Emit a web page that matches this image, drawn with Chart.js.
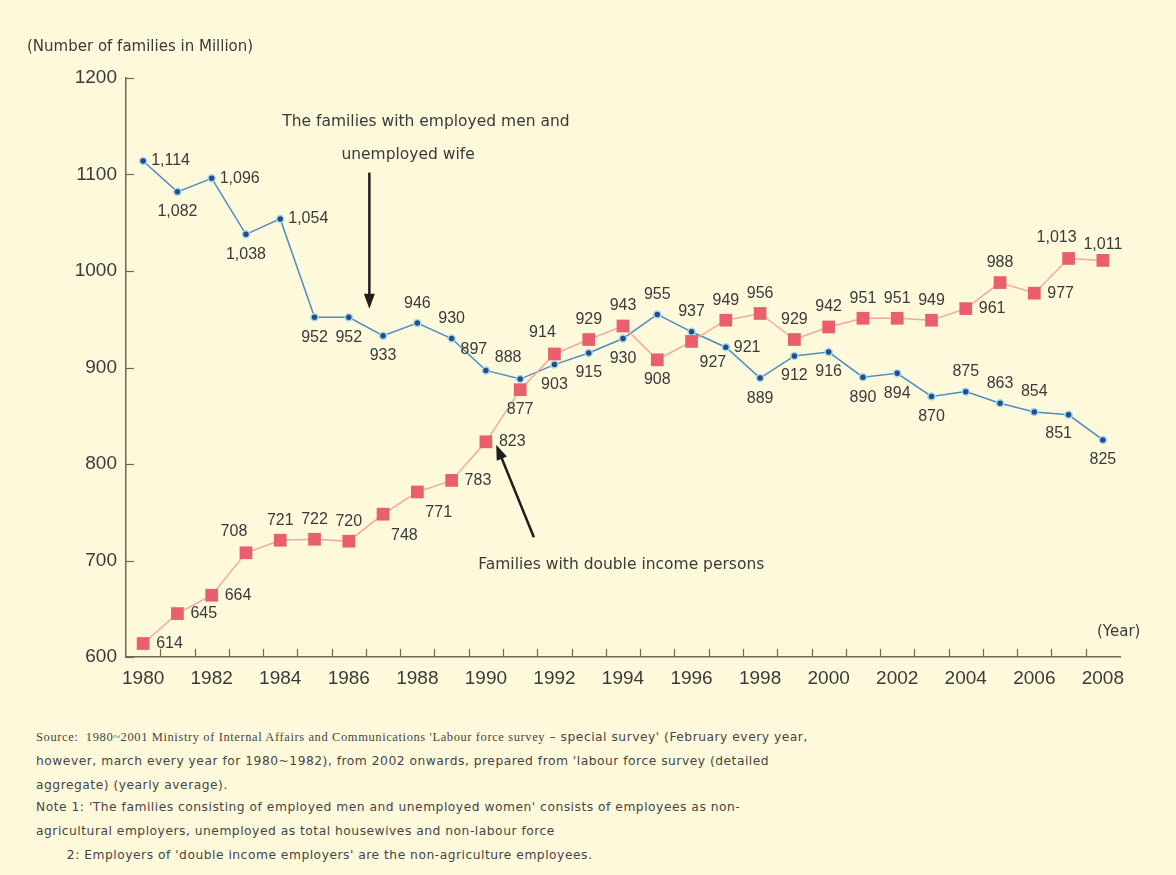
<!DOCTYPE html>
<html>
<head>
<meta charset="utf-8">
<script src="https://cdn.jsdelivr.net/npm/chart.js@4.4.1/dist/chart.umd.min.js"></script>
<style>
    html, body { margin: 0; padding: 0; background: #fff9dc; width: 1176px; height: 875px; overflow: hidden; }
    #wrap { position: absolute; left: 0; top: 0; width: 1176px; height: 700px; }
    .txt { position: absolute; font-family: "DejaVu Sans", Verdana, sans-serif; color: #3a3a3a; white-space: nowrap; }
    #yTitle { left: 27px; top: 37px; font-size: 15px; }
    #xTitle { left: 1097px; top: 622px; font-size: 15px; }
    #notes { position: absolute; left: 36px; top: 728px; font-family: "DejaVu Sans", Verdana, sans-serif; font-size: 12.3px; letter-spacing: 0.5px; color: #454545; }
    #notes div { height: 24px; line-height: 18px; white-space: nowrap; }
    #notes .serif { font-family: "Liberation Serif", "Times New Roman", serif; font-size: 12.5px; letter-spacing: 0.6px; }
</style>
</head>
<body>
<div id="wrap"><canvas id="familyChart" width="1176" height="700"></canvas></div>
<div class="txt" id="yTitle">(Number of families in Million)</div>
<div class="txt" id="xTitle">(Year)</div>
<div id="notes">
    <div><span class="serif">Source:&nbsp; 1980~2001 Ministry of Internal Affairs and Communications 'Labour force survey</span> – special survey' (February every year,</div>
    <div>however, march every year for 1980~1982), from 2002 onwards, prepared from 'labour force survey (detailed</div>
    <div style="height:22px">aggregate) (yearly average).</div>
    <div>Note 1: 'The families consisting of employed men and unemployed women' consists of employees as non-</div>
    <div>agricultural employers, unemployed as total housewives and non-labour force</div>
    <div>&nbsp;&nbsp;&nbsp;&nbsp;&nbsp;&nbsp;&nbsp;2: Employers of 'double income employers' are the non-agriculture employees.</div>
</div>
<script>
// Years on the x axis
const years = ['1980', '1981', '1982', '1983', '1984', '1985', '1986', '1987', '1988', '1989',
               '1990', '1991', '1992', '1993', '1994', '1995', '1996', '1997', '1998', '1999',
               '2000', '2001', '2002', '2003', '2004', '2005', '2006', '2007', '2008'];

// Families with employed men and unemployed wife
const menOnly = [1114, 1082, 1096, 1038, 1054, 952, 952, 933, 946, 930,
                 897, 888, 903, 915, 930, 955, 937, 921, 889, 912,
                 916, 890, 894, 870, 875, 863, 854, 851, 825];

// Families with double income persons
const dualIncome = [614, 645, 664, 708, 721, 722, 720, 748, 771, 783,
                    823, 877, 914, 929, 943, 908, 927, 949, 956, 929,
                    942, 951, 951, 949, 961, 988, 977, 1013, 1011];

const yTicks = [600, 700, 800, 900, 1000, 1100, 1200];

// where each value label sits relative to its point
const menPlace = ['r', 'b', 'r', 'b', 'r', 'b', 'b', 'b', 't', 't',
                  'tl', 'tl', 'b', 'b', 'b', 't', 't', 'r', 'b', 'b',
                  'b', 'b', 'b', 'b', 't', 't', 't', 'bl', 'b'];
const dualPlace = ['r', 'r', 'r', 'tl', 't', 't', 't', 'br', 'br', 'r',
                   'r', 'b', 'tl', 't', 't', 'b', 'br', 't', 't', 't',
                   't', 't', 't', 't', 'r', 't', 'r', 'tl', 'ts'];

const inkColor = '#3a3a3a';
const axisColor = '#6d6a55';

// Annotations, anchored in data units (category index, value)
const menNote = [
    { text: 'The families with employed men and', x: 8.25, y: 1154 },
    { text: 'unemployed wife', x: 7.73, y: 1120 }
];
const menArrow = { from: { x: 6.6, y: 1102 }, to: { x: 6.6, y: 961 } };
const dualNote = [{ text: 'Families with double income persons', x: 13.95, y: 695 }];
const dualArrow = { from: { x: 11.4, y: 724 }, to: { x: 10.3, y: 820 } };

function drawArrow(ctx, x1, y1, x2, y2) {
    const ang = Math.atan2(y2 - y1, x2 - x1);
    const head = 15, half = 5.5;
    ctx.beginPath();
    ctx.moveTo(x1, y1);
    ctx.lineTo(x2 - Math.cos(ang) * head * 0.8, y2 - Math.sin(ang) * head * 0.8);
    ctx.stroke();
    ctx.beginPath();
    ctx.moveTo(x2, y2);
    ctx.lineTo(x2 - Math.cos(ang) * head - Math.sin(ang) * half, y2 - Math.sin(ang) * head + Math.cos(ang) * half);
    ctx.lineTo(x2 - Math.cos(ang) * head + Math.sin(ang) * half, y2 - Math.sin(ang) * head - Math.cos(ang) * half);
    ctx.closePath();
    ctx.fill();
}

const extrasPlugin = {
    id: 'extras',
    afterDatasetsDraw(chart) {
        const ctx = chart.ctx;
        const xs = chart.scales.x, ys = chart.scales.y;
        const area = chart.chartArea;
        ctx.save();

        // inward tick marks
        ctx.strokeStyle = axisColor;
        ctx.lineWidth = 1.2;
        yTicks.forEach(v => {
            const py = Math.round(ys.getPixelForValue(v)) + 0.5;
            ctx.beginPath();
            ctx.moveTo(area.left, py);
            ctx.lineTo(area.left + 8, py);
            ctx.stroke();
        });
        for (let i = 0; i < years.length - 1; i++) {
            const px = Math.round(xs.getPixelForValue(i + 0.5)) + 0.5;
            ctx.beginPath();
            ctx.moveTo(px, area.bottom);
            ctx.lineTo(px, area.bottom - 8);
            ctx.stroke();
        }

        // value labels
        ctx.font = '16px "Liberation Sans", Arial, sans-serif';
        ctx.fillStyle = inkColor;
        ctx.textBaseline = 'middle';
        chart.data.datasets.forEach((ds, di) => {
            const meta = chart.getDatasetMeta(di);
            const places = ds.label.startsWith('The') ? menPlace : dualPlace;
            const side = ds.label.startsWith('The') ? 8 : 13;
            meta.data.forEach((pt, i) => {
                const text = ds.data[i].toLocaleString('en-US');
                let dx = 0, dy = 0, align = 'center';
                switch (places[i]) {
                    case 'r': dx = side; align = 'left'; break;
                    case 't': dy = -20; break;
                    case 'ts': dy = -16; break;
                    case 'b': dy = 20; break;
                    case 'tl': dx = -12; dy = -21; break;
                    case 'br': dx = 8; dy = 21; align = 'left'; break;
                    case 'bl': dx = -10; dy = 19; break;
                }
                ctx.textAlign = align;
                ctx.fillText(text, pt.x + dx, pt.y + dy);
            });
        });

        // annotations
        ctx.font = '15.5px "DejaVu Sans", Verdana, sans-serif';
        ctx.textAlign = 'center';
        menNote.concat(dualNote).forEach(n => {
            ctx.fillText(n.text, xs.getPixelForValue(n.x), ys.getPixelForValue(n.y));
        });
        ctx.strokeStyle = '#1e1e1e';
        ctx.fillStyle = '#1e1e1e';
        ctx.lineWidth = 2.5;
        [menArrow, dualArrow].forEach(a => {
            drawArrow(ctx,
                xs.getPixelForValue(a.from.x), ys.getPixelForValue(a.from.y),
                xs.getPixelForValue(a.to.x), ys.getPixelForValue(a.to.y));
        });
        ctx.restore();
    }
};

new Chart(document.getElementById('familyChart'), {
    type: 'line',
    data: {
        labels: years,
        datasets: [
            {
                label: 'The families with employed men and unemployed wife',
                data: menOnly,
                borderColor: '#4f8cc0',
                borderWidth: 1.5,
                pointStyle: 'circle',
                pointRadius: 3.5,
                pointBackgroundColor: '#1e4f85',
                pointBorderColor: '#a6d6f2',
                pointBorderWidth: 1.5,
                tension: 0,
                order: 1
            },
            {
                label: 'Families with double income persons',
                data: dualIncome,
                borderColor: '#f4a6a6',
                borderWidth: 1.5,
                pointStyle: 'rect',
                pointRadius: 9,
                pointBackgroundColor: '#e9606c',
                pointBorderColor: '#e9606c',
                pointBorderWidth: 0,
                tension: 0,
                order: 0
            }
        ]
    },
    options: {
        responsive: false,
        animation: false,
        layout: { padding: { left: 0, top: 78, right: 56, bottom: 0 } },
        plugins: {
            legend: { display: false },
            tooltip: { enabled: false }
        },
        scales: {
            x: {
                offset: true,
                afterFit: scale => { scale.height = 43; },
                grid: { display: false, drawTicks: false },
                border: { display: true, color: axisColor, width: 1.5 },
                ticks: {
                    autoSkip: false,
                    maxRotation: 0,
                    padding: 10,
                    color: inkColor,
                    font: { family: '"Liberation Sans", Arial, sans-serif', size: 19 },
                    callback: function(value, index) {
                        return index % 2 === 0 ? years[index] : '';
                    }
                }
            },
            y: {
                min: 600,
                max: 1200,
                afterFit: scale => { scale.width = 126; },
                grid: { display: false, drawTicks: false },
                border: { display: true, color: axisColor, width: 1.5 },
                ticks: {
                    stepSize: 100,
                    padding: 9,
                    color: inkColor,
                    font: { family: '"Liberation Sans", Arial, sans-serif', size: 19 },
                    callback: value => String(value)
                }
            }
        }
    },
    plugins: [extrasPlugin]
});
</script>
</body>
</html>
